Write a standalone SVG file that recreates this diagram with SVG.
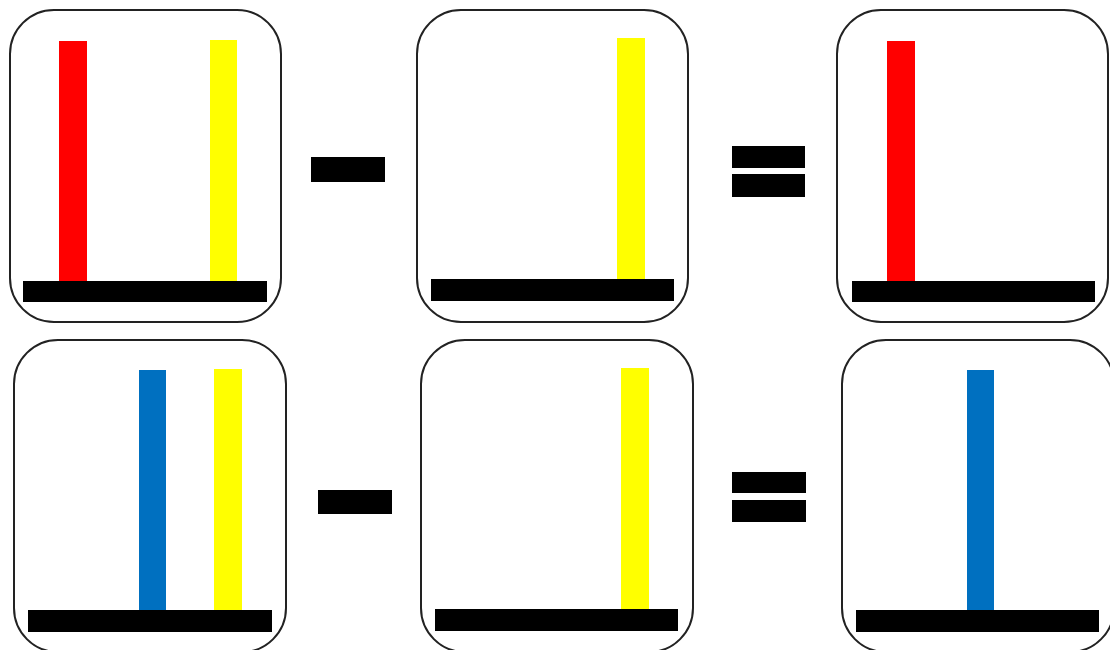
<svg xmlns="http://www.w3.org/2000/svg" width="1110" height="650" viewBox="0 0 1110 650">
<style>
.box{fill:#fff;stroke:#222;stroke-width:2}
.base{fill:#000}
.red{fill:#ff0000}
.yel{fill:#ffff00}
.blu{fill:#0070c0}
.op{fill:#000}
</style>
<rect width="1110" height="650" fill="#fff"/>
<g id="top-left">
<rect class="box" x="10" y="10" width="271" height="312" rx="44"/>
<rect class="red" x="59" y="41" width="28" height="241"/>
<rect class="yel" x="210" y="40" width="27" height="242"/>
<rect class="base" x="23" y="281" width="244" height="21"/>
</g>
<g id="top-middle">
<rect class="box" x="417" y="10" width="271" height="312" rx="44"/>
<rect class="yel" x="617" y="38" width="28" height="242"/>
<rect class="base" x="431" y="279" width="243" height="22"/>
</g>
<g id="top-right">
<rect class="box" x="837" y="10" width="271" height="312" rx="44"/>
<rect class="red" x="887" y="41" width="28" height="241"/>
<rect class="base" x="852" y="281" width="243" height="21"/>
</g>
<g id="bottom-left">
<rect class="box" x="14" y="340" width="272" height="312" rx="44"/>
<rect class="blu" x="139" y="370" width="27" height="242"/>
<rect class="yel" x="214" y="369" width="28" height="242"/>
<rect class="base" x="28" y="610" width="244" height="22"/>
</g>
<g id="bottom-middle">
<rect class="box" x="421" y="340" width="272" height="312" rx="44"/>
<rect class="yel" x="621" y="368" width="28" height="242"/>
<rect class="base" x="435" y="609" width="243" height="22"/>
</g>
<g id="bottom-right">
<rect class="box" x="842" y="340" width="272" height="312" rx="44"/>
<rect class="blu" x="967" y="370" width="27" height="242"/>
<rect class="base" x="856" y="610" width="243" height="22"/>
</g>
<g id="operators">
<rect class="op" x="311" y="157" width="74" height="25"/>
<rect class="op" x="732" y="146" width="73" height="22"/>
<rect class="op" x="732" y="174" width="73" height="23"/>
<rect class="op" x="318" y="490" width="74" height="24"/>
<rect class="op" x="732" y="472" width="74" height="21"/>
<rect class="op" x="732" y="500" width="74" height="22"/>
</g>
</svg>
